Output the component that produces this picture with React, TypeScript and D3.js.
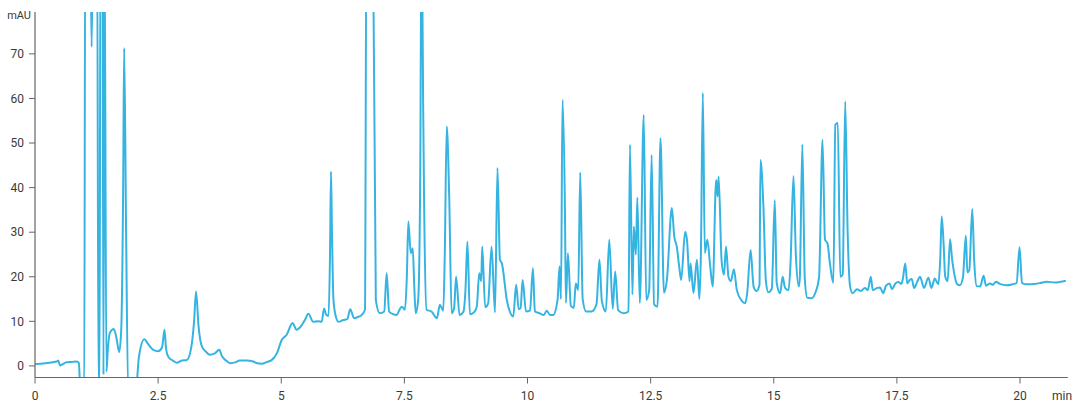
import React from "react";
import * as d3 from "d3";

// [retention time (min), absorbance (mAU)]
const segInjection: [number, number][] = [
  [0.0, 0.4], [0.2, 0.6], [0.44, 1.0], [0.47, 1.2], [0.51, 0.1], [0.55, 0.3], [0.64, 0.8],
  [0.75, 0.9], [0.85, 1.0], [0.89, 0.7], [0.92, -5], [1.0, -5], [1.02, 100], [1.12, 100],
  [1.15, 71.6], [1.18, 100], [1.26, 100], [1.29, -5], [1.31, -5], [1.33, 100], [1.37, 100],
  [1.39, -2], [1.41, 100], [1.45, -1.3], [1.48, 4], [1.52, 7.4], [1.6, 8.3], [1.65, 6.5],
  [1.71, 3.1], [1.75, 8], [1.79, 40], [1.81, 71.3], [1.85, 30], [1.89, -5], [2.05, -5],
  [2.11, 2], [2.22, 6.0], [2.29, 5], [2.4, 3.6], [2.5, 3.3], [2.58, 4.2], [2.63, 8.1],
  [2.66, 4], [2.71, 2.0], [2.8, 1.2], [2.88, 0.7], [2.98, 1.2], [3.08, 1.3], [3.17, 4],
  [3.23, 10], [3.27, 16.7], [3.32, 9], [3.39, 4.3], [3.47, 3.2], [3.55, 2.5], [3.65, 2.8],
  [3.74, 3.6], [3.8, 2.1], [3.88, 1.2], [3.96, 0.6], [4.06, 0.8], [4.16, 1.2], [4.3, 1.2],
  [4.43, 1.0], [4.51, 0.6], [4.61, 0.5], [4.69, 0.8], [4.81, 1.35], [4.91, 2.8],
];

const segRise: [number, number][] = [
  [5.01, 5.8], [5.11, 7.0], [5.23, 9.6], [5.31, 8.1], [5.42, 9.2], [5.48, 10.3], [5.55, 11.7],
  [5.65, 9.9], [5.75, 10.0], [5.82, 9.9], [5.87, 12.9], [5.91, 11.5], [5.96, 11.2], [5.99, 25],
  [6.01, 43.6], [6.03, 30], [6.06, 14.8], [6.11, 11], [6.16, 9.9], [6.26, 10.3], [6.34, 10.5],
  [6.4, 12.7], [6.48, 10.7], [6.56, 11], [6.63, 11.4], [6.7, 12.6], [6.73, 100], [6.86, 100],
  [6.92, 14.8], [7.0, 11.8], [7.09, 12.2], [7.14, 20.8], [7.19, 12.2], [7.27, 11.6], [7.34, 11.4],
  [7.41, 12.8], [7.45, 13.3], [7.51, 12.6], [7.55, 20], [7.58, 32.4], [7.63, 25.3], [7.67, 26.4],
  [7.7, 18], [7.73, 11.8], [7.78, 14.8], [7.82, 40], [7.85, 100], [7.88, 60], [7.9, 37.2],
  [7.95, 12.6], [8.05, 12.2], [8.16, 10.7], [8.22, 13.7], [8.29, 12.4], [8.32, 25], [8.36, 53.7],
  [8.41, 38], [8.46, 11.8], [8.51, 13], [8.55, 20.0], [8.62, 11.4], [8.7, 12.2], [8.74, 17],
  [8.78, 27.9], [8.83, 11.6], [8.91, 12], [8.97, 13.3], [9.02, 20.8], [9.06, 19], [9.08, 26.8],
  [9.14, 13.2], [9.2, 14.0], [9.27, 26.8], [9.34, 12], [9.39, 44.4], [9.44, 23.8], [9.48, 23],
  [9.58, 14.8], [9.64, 12.2], [9.71, 11.1], [9.77, 18.2], [9.82, 12.7], [9.86, 13], [9.9, 19.3],
  [9.97, 12.2], [10.05, 12.4], [10.11, 21.9], [10.15, 12.2],
];

const segDense: [number, number][] = [
  [10.25, 11.8], [10.33, 11.4], [10.39, 12.4], [10.46, 11.4], [10.52, 11.4], [10.61, 14.8],
  [10.65, 22.3], [10.68, 15], [10.71, 59.7], [10.76, 35], [10.78, 14.1], [10.82, 25.3],
  [10.88, 13.5], [10.94, 13], [10.98, 18.5], [11.03, 17], [11.07, 43.4], [11.12, 15],
  [11.19, 12.2], [11.3, 12.2], [11.4, 13.8], [11.46, 23.8], [11.51, 14.5], [11.59, 12.2],
  [11.66, 28.3], [11.73, 12.8], [11.78, 21.2], [11.84, 12.5], [11.95, 11.8], [12.05, 12.2],
  [12.08, 49.6], [12.13, 16], [12.16, 31.3], [12.2, 25], [12.23, 37.8], [12.28, 14.1],
  [12.36, 56.3], [12.41, 14.8], [12.47, 17], [12.52, 47.3], [12.57, 13.8], [12.64, 13.3],
  [12.7, 51.1], [12.77, 16.4], [12.83, 19.3], [12.93, 35.4], [12.98, 29], [13.03, 26.8],
  [13.08, 22.3], [13.12, 19.3], [13.2, 30.1], [13.24, 28], [13.29, 19], [13.31, 23],
  [13.37, 16.4], [13.44, 23.8], [13.49, 15], [13.52, 25], [13.56, 61.2], [13.6, 25.3],
  [13.65, 28.3], [13.71, 22.3], [13.76, 17.8], [13.83, 41.7], [13.86, 38], [13.88, 42.5], [13.94, 23.8],
  [13.99, 20.5], [14.03, 26.8], [14.08, 20.0], [14.13, 19], [14.19, 21.7], [14.25, 17],
  [14.35, 14.6], [14.42, 14.1], [14.46, 16.3], [14.53, 26], [14.59, 17.8], [14.65, 16.8],
  [14.71, 18.2], [14.73, 46.2], [14.79, 35.7], [14.84, 19.0], [14.89, 16.5], [14.96, 17.3],
  [15.02, 37.2], [15.06, 18.6], [15.13, 16.3], [15.18, 20.0], [15.23, 17.5], [15.3, 17],
  [15.34, 23], [15.4, 42.6], [15.45, 24.5], [15.51, 17.8], [15.53, 20], [15.58, 49.7],
  [15.63, 19.5], [15.68, 15.3], [15.77, 15.2], [15.84, 16.3], [15.92, 20.0], [15.99, 50.7],
  [16.04, 28.3], [16.09, 27.5], [16.14, 23.0], [16.21, 18.6], [16.25, 54.1], [16.3, 54.5],
  [16.35, 20.0], [16.4, 20.5], [16.45, 59.3], [16.5, 30], [16.55, 17.8],
];

const segTail: [number, number][] = [
  [16.6, 16.3], [16.69, 17.2], [16.77, 16.8], [16.85, 17.5], [16.91, 17], [16.97, 20.0],
  [17.01, 17], [17.1, 17.5], [17.16, 17.6], [17.22, 16.3], [17.28, 18], [17.35, 18.5],
  [17.4, 17.2], [17.47, 18.5], [17.53, 18.8], [17.59, 18.4], [17.62, 19.5], [17.67, 23],
  [17.71, 18.5], [17.76, 19.3], [17.8, 19.5], [17.85, 17.5], [17.91, 18.8], [17.97, 20.0],
  [18.05, 17.5], [18.14, 19.8], [18.2, 17.5], [18.27, 19.6], [18.34, 18.3], [18.38, 24],
  [18.41, 33.5], [18.45, 27], [18.48, 20.1], [18.53, 19], [18.58, 28.4], [18.62, 24],
  [18.66, 21], [18.72, 18.4], [18.78, 18.1], [18.84, 19.8], [18.9, 29.2], [18.93, 21],
  [18.97, 21.5], [19.03, 35.2], [19.07, 23.5], [19.12, 17.9], [19.19, 17.8], [19.26, 20.2],
  [19.31, 18], [19.39, 18.5], [19.45, 18.2], [19.51, 18.9], [19.59, 18.4], [19.73, 18.1],
  [19.84, 18.3], [19.93, 18.6], [19.99, 26.6], [20.04, 18.6], [20.14, 18.3], [20.3, 18.4],
  [20.41, 18.6], [20.54, 18.9], [20.71, 18.7], [20.93, 19.1],
];

const xTicks = [0, 2.5, 5, 7.5, 10, 12.5, 15, 17.5, 20];
const yTicks = [0, 10, 20, 30, 40, 50, 60, 70];
const xUnit = "min";
const yUnit = "mAU";

export default function App() {
  const W = 1080;
  const H = 405;
  const left = 35;
  const right = 1067.8;
  const top = 12;
  const bottom = 377.5;

  const x = d3.scaleLinear().domain([0, 20.97]).range([left, right]);
  const y = d3.scaleLinear().domain([-2.6, 79.4]).range([bottom, top]);

  const data = [...segInjection, ...segRise, ...segDense, ...segTail];
  const line = d3
    .line<[number, number]>()
    .x((d) => x(d[0]))
    .y((d) => y(d[1]))
    .curve(d3.curveMonotoneX);

  const font = "Roboto, 'Liberation Sans', Arial, sans-serif";
  const axisColor = "#666";
  const textColor = "#3a3a3a";

  return (
    <svg
      width={W}
      height={H}
      style={{ position: "absolute", left: 0, top: 0, background: "#fff" }}
      fontFamily={font}
    >
      <defs>
        <clipPath id="plot">
          <rect x={left} y={top} width={right - left} height={bottom - top} />
        </clipPath>
      </defs>
      <path
        d={line(data) || ""}
        fill="none"
        stroke="#35b4e2"
        strokeWidth={2}
        strokeLinejoin="round"
        clipPath="url(#plot)"
      />
      <line x1={left} x2={left} y1={top} y2={bottom} stroke={axisColor} strokeWidth={1.2} />
      <line x1={left} x2={right} y1={bottom} y2={bottom} stroke={axisColor} strokeWidth={1.2} />
      {yTicks.map((t) => (
        <g key={"y" + t}>
          <line x1={left - 6} x2={left} y1={y(t)} y2={y(t)} stroke={axisColor} strokeWidth={1} />
          <text
            x={left - 11}
            y={y(t)}
            dy="0.35em"
            textAnchor="end"
            fontSize={12}
            fill={textColor}
          >
            {t}
          </text>
        </g>
      ))}
      {xTicks.map((t) => (
        <g key={"x" + t}>
          <line x1={x(t)} x2={x(t)} y1={bottom} y2={bottom + 6} stroke={axisColor} strokeWidth={1} />
          <text x={x(t)} y={400} textAnchor="middle" fontSize={12} fill={textColor}>
            {t}
          </text>
        </g>
      ))}
      <text x={31} y={19} textAnchor="end" fontSize={11} fill={textColor}>
        {yUnit}
      </text>
      <text x={1052} y={400} fontSize={12} fill={textColor}>
        {xUnit}
      </text>
    </svg>
  );
}
